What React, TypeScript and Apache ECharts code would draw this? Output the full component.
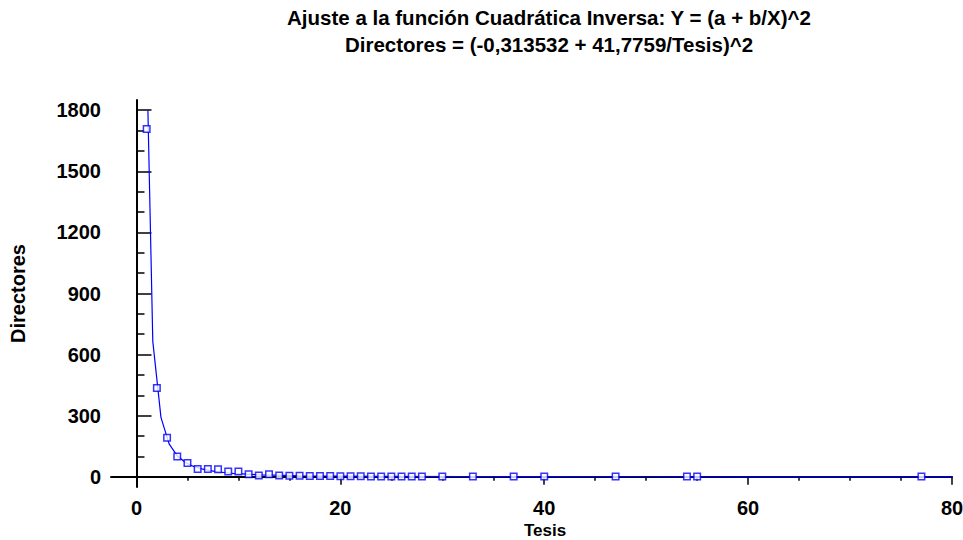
import React, { useEffect, useRef } from "react";
import * as echarts from "echarts";

// Observed data: number of thesis directors for each count of theses directed
const tesis = [
  1, 2, 3, 4, 5, 6, 7, 8, 9, 10, 11, 12, 13, 14, 15, 16, 17, 18, 19, 20, 21, 22,
  23, 24, 25, 26, 27, 28, 30, 33, 37, 40, 47, 54, 55, 77,
];
const directores = [
  1708, 436, 192, 100, 68, 38, 38, 37, 26, 26, 13, 6, 13, 6, 5, 5, 4, 4, 4, 3, 3, 3,
  2, 2, 2, 2, 2, 2, 1, 1, 1, 1, 1, 1, 1, 1,
];

// Fitted inverse-quadratic curve, sampled along Tesis
const fitTesis = [
  1.12, 1.6, 2.4, 3.2, 4.0, 4.8, 5.6, 6.4, 7.2, 8.0, 8.8, 9.6, 10.4, 11.2, 12.0, 13.6,
  16, 20, 24, 32, 40, 50, 60, 80,
];
const fitDirectores = [
  1800, 665, 292, 162, 103, 70, 51, 39, 30, 24, 20, 16, 14, 12, 10, 8,
  5.3, 3.2, 2.0, 1.0, 0.5, 0.3, 0.15, 0.04,
];

const xMajorTicks = [0, 20, 40, 60, 80];
const xMinorTicks = [5, 10, 15, 25, 30, 35, 45, 50, 55, 65, 70, 75];
const yMajorTicks = [0, 300, 600, 900, 1200, 1500, 1800];
const yMinorTicks = [100, 200, 400, 500, 700, 800, 1000, 1100, 1300, 1400, 1600, 1700];

const titleLines = [
  "Ajuste a la función Cuadrática Inversa: Y = (a + b/X)^2",
  "Directores = (-0,313532 + 41,7759/Tesis)^2",
];
const xAxisTitle = "Tesis";
const yAxisTitle = "Directores";

const FONT = "'Liberation Sans', Arial, Helvetica, sans-serif";
const BLUE = "#0000ff";

export default function App() {
  const ref = useRef<HTMLDivElement>(null);

  useEffect(() => {
    if (!ref.current) return;
    const chart = echarts.init(ref.current, null, { renderer: "svg" });

    const labelStyle = {
      color: "#000",
      fontSize: 20,
      fontWeight: "bold" as const,
      fontFamily: FONT,
    };
    const plain = (v: number) => String(v);
    const boldText = (text: string, x: number, y: number, size: number) => ({
      type: "text",
      x,
      y,
      style: {
        text,
        textAlign: "center",
        textVerticalAlign: "middle",
        fontSize: size,
        fontWeight: "bold",
        fontFamily: FONT,
        fill: "#000",
      },
    });

    chart.setOption({
      animation: false,
      backgroundColor: "#fff",
      textStyle: { fontFamily: FONT },
      graphic: [
        ...titleLines.map((t, i) => boldText(t, 549, 17 + i * 27, 20.5)),
        boldText(xAxisTitle, 545, 530.4, 17),
      ],
      grid: {
        left: 111,
        right: 11,
        top: 100,
        bottom: 53,
        containLabel: false,
        outerBoundsMode: "none",
      },
      xAxis: [
        {
          type: "value",
          min: -2.5,
          max: 80,
          position: "bottom",
          axisLine: { show: true, lineStyle: { color: "#000", width: 2 } },
          axisTick: {
            show: true,
            customValues: xMajorTicks,
            length: 8,
            inside: false,
            lineStyle: { color: "#000", width: 1.5 },
          },
          axisLabel: { ...labelStyle, customValues: xMajorTicks, margin: 11, formatter: plain },
          splitLine: { show: false },
        },
        {
          type: "value",
          min: -2.5,
          max: 80,
          position: "bottom",
          offset: 0,
          axisLine: { show: false },
          axisTick: {
            show: true,
            customValues: xMinorTicks,
            length: 4,
            inside: false,
            lineStyle: { color: "#000", width: 1.5 },
          },
          axisLabel: { show: false },
          splitLine: { show: false },
        },
      ],
      yAxis: [
        {
          type: "value",
          min: -50,
          max: 1850,
          position: "left",
          name: yAxisTitle,
          nameLocation: "middle",
          nameRotate: 90,
          nameGap: 83,
          nameTextStyle: labelStyle,
          axisLine: { show: true, lineStyle: { color: "#000", width: 2 } },
          axisTick: {
            show: true,
            customValues: yMajorTicks,
            length: 15,
            inside: true,
            lineStyle: { color: "#000", width: 1.5 },
          },
          axisLabel: { ...labelStyle, customValues: yMajorTicks, margin: 10, formatter: plain },
          splitLine: { show: false },
        },
        {
          type: "value",
          min: -50,
          max: 1850,
          position: "left",
          offset: 0,
          axisLine: { show: false },
          axisTick: {
            show: true,
            customValues: yMinorTicks,
            length: 8,
            inside: true,
            lineStyle: { color: "#000", width: 1.5 },
          },
          axisLabel: { show: false },
          splitLine: { show: false },
        },
      ],
      series: [
        {
          type: "line",
          xAxisIndex: 0,
          yAxisIndex: 0,
          data: fitTesis.map((x, i) => [x, fitDirectores[i]]),
          showSymbol: false,
          symbol: "none",
          clip: true,
          lineStyle: { color: BLUE, width: 1.2 },
          z: 2,
        },
        {
          type: "scatter",
          xAxisIndex: 0,
          yAxisIndex: 0,
          data: tesis.map((x, i) => [x, directores[i]]),
          symbol: "rect",
          symbolSize: 6.5,
          itemStyle: { color: "#fff", borderColor: BLUE, borderWidth: 1.5 },
          z: 3,
        },
      ],
    });

    return () => chart.dispose();
  }, []);

  return (
    <div
      ref={ref}
      style={{ position: "fixed", left: 0, top: 0, width: 963, height: 540 }}
    />
  );
}
